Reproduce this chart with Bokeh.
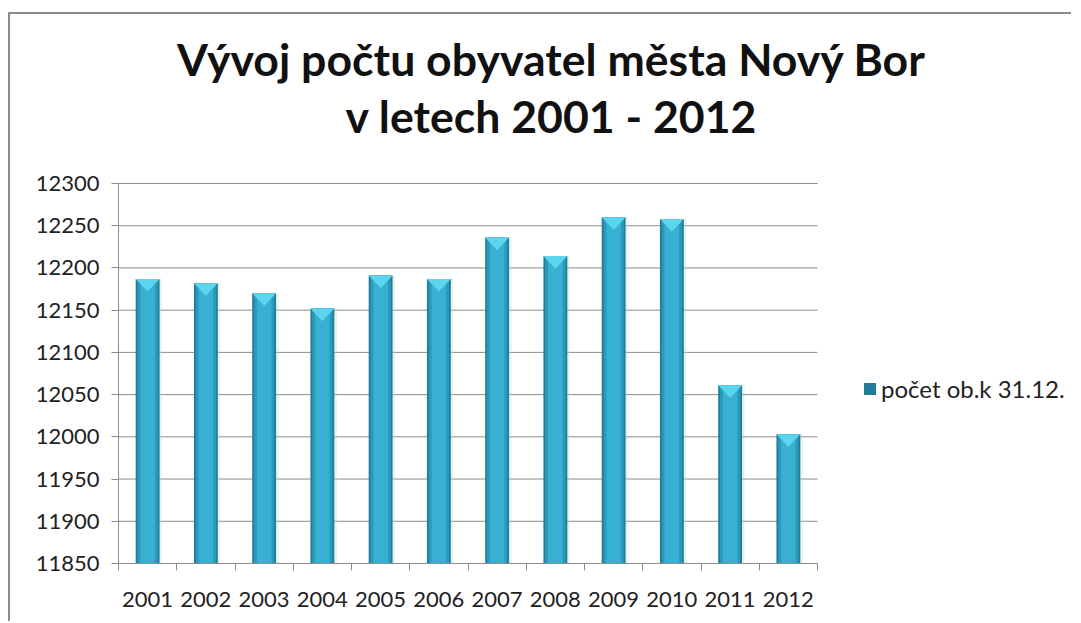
from bokeh.plotting import figure
from bokeh.models import (Range1d, FixedTicker, Label, Legend, LegendItem,
                          ColumnDataSource)
from bokeh.embed import file_html
from bokeh.resources import INLINE

# ---- data ----
years = ["2001", "2002", "2003", "2004", "2005", "2006",
         "2007", "2008", "2009", "2010", "2011", "2012"]
population = [12187, 12182, 12170, 12152, 12191, 12187,
              12236, 12214, 12260, 12258, 12061, 12003]
y_ticks = [11850, 11900, 11950, 12000, 12050, 12100, 12150, 12200, 12250, 12300]
series_name = "počet ob.k 31.12."
title_lines = ["Vývoj počtu obyvatel města Nový Bor", "v letech 2001 - 2012"]

FONT = "Lato"
Y0, Y1 = y_ticks[0], y_ticks[-1]

# layout: the axes occupy 699 x 380 px; the frame is extended right and up so
# that legend and title (placed in screen units) are not clipped
W, H = 1063, 609
LEFT, BOTTOM = 108, 60
AXIS_W, AXIS_H = 699, 380
FRAME_W, FRAME_H = W - LEFT, H - BOTTOM
n = len(years)
x_end = n * FRAME_W / AXIS_W
y_end = Y0 + (Y1 - Y0) * FRAME_H / AXIS_H

centers = [i + 0.5 for i in range(n)]
src = ColumnDataSource(dict(x=centers, y=population,
                            xs=[c + 0.035 for c in centers]))

p = figure(width=W, height=H, output_backend="svg", toolbar_location=None,
           x_range=Range1d(0, x_end), y_range=Range1d(Y0, y_end),
           min_border_left=LEFT, min_border_top=0, min_border_bottom=BOTTOM,
           min_border_right=0,
           background_fill_color="white", border_fill_color="white")
p.outline_line_color = None
p.styles = {"margin-left": "8px", "margin-top": "12px",
            "border-left": "2px solid #8c8c8c",
            "border-top": "2px solid #8c8c8c"}

# horizontal grid lines, only across the category axis
p.xgrid.grid_line_color = None
p.ygrid.grid_line_color = None
p.segment(x0=0, x1=n, y0=y_ticks, y1=y_ticks, line_color="#8c8c8c",
          line_width=1)

# y axis
p.yaxis.bounds = (Y0, Y1)
p.yaxis.ticker = FixedTicker(ticks=y_ticks)
p.yaxis.axis_line_color = "#8c8c8c"
p.yaxis.major_tick_line_color = "#8c8c8c"
p.yaxis.major_tick_out = 7
p.yaxis.major_tick_in = 0
p.yaxis.minor_tick_line_color = None
p.yaxis.major_label_text_font = FONT
p.yaxis.major_label_text_font_size = "22px"
p.yaxis.major_label_text_color = "#222222"
p.yaxis.major_label_standoff = 12

# x axis: labels at category centres, tick marks at boundaries
p.xaxis.bounds = (0, n)
p.xaxis.ticker = FixedTicker(ticks=centers, minor_ticks=list(range(n + 1)))
p.xaxis.major_label_overrides = {c: y for c, y in zip(centers, years)}
p.xaxis.major_tick_line_color = None
p.xaxis.minor_tick_line_color = "#8c8c8c"
p.xaxis.minor_tick_out = 7
p.xaxis.minor_tick_in = 0
p.xaxis.axis_line_color = "#8c8c8c"
p.xaxis.major_label_text_font = FONT
p.xaxis.major_label_text_font_size = "22px"
p.xaxis.major_label_text_color = "#222222"
p.xaxis.major_label_standoff = 21

# bars (layered for a cylinder-like shading)
p.vbar(x="xs", top="y", bottom=Y0, width=0.43, source=src,
       fill_color="#c9d3d6", fill_alpha=0.35, line_color=None)
r_main = p.vbar(x="x", top="y", bottom=Y0, width=0.41, source=src,
                fill_color="#217d97", line_color=None)
p.vbar(x="x", top="y", bottom=Y0, width=0.35, source=src,
       fill_color="#2b9aba", line_color=None)
p.vbar(x="x", top="y", bottom=Y0, width=0.25, source=src,
       fill_color="#37b0d1", line_color=None)

# bevelled top (light triangle)
tri_h = 15
tri_xs = [[c - 0.205, c + 0.205, c] for c in centers]
tri_ys = [[v, v, v - tri_h] for v in population]
p.patches(tri_xs, tri_ys, fill_color="#5cd5ef", line_color=None)

# legend beside the axes
legend = Legend(items=[LegendItem(label=series_name, renderers=[r_main])],
                location=(744, 160), border_line_color=None,
                background_fill_alpha=0, label_text_font=FONT,
                label_text_font_size="24px", label_text_color="#222222",
                glyph_width=15, glyph_height=15, label_standoff=4,
                margin=0, padding=0)
p.add_layout(legend)

# two-line title, centred above the chart
for txt, sy in zip(title_lines, [505, 448]):
    p.add_layout(Label(x=433, y=sy, x_units="screen", y_units="screen",
                       text=txt, text_font=FONT, text_font_style="bold",
                       text_font_size="44.6px", text_color="#111111",
                       text_align="center", text_baseline="alphabetic"))

open("out.html", "w").write(file_html(p, INLINE))
